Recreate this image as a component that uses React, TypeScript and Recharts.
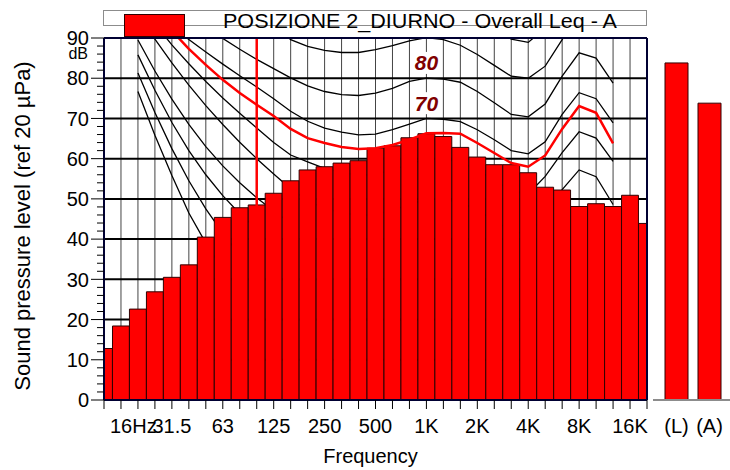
import React from "react";
import {
  ComposedChart,
  BarChart,
  Bar,
  Line,
  XAxis,
  YAxis,
  CartesianGrid,
  ReferenceLine,
  ReferenceDot,
  Label,
} from "recharts";

const FONT = "'Liberation Sans', Arial, sans-serif";

// 1/3 octave bands, 12.5 Hz .. 20 kHz
const bands = [
  "12.5", "16", "20", "25", "31.5", "40", "50", "63", "80", "100", "125",
  "160", "200", "250", "315", "400", "500", "630", "800", "1K", "1.25K",
  "1.6K", "2K", "2.5K", "3.15K", "4K", "5K", "6.3K", "8K", "10K", "12.5K",
  "16K", "20K",
];

// tick labels shown under the axis (same order as bands)
const freqLabels = [
  "", "16Hz", "", "", "31.5", "", "", "63", "", "", "125", "", "", "250", "",
  "", "500", "", "", "1K", "", "", "2K", "", "", "4K", "", "", "8K", "", "",
  "16K", "",
];

// measured Leq per band (dB)
const leq = [
  12.8, 18.4, 22.6, 26.9, 30.5, 33.6, 40.5, 45.4, 47.8, 48.5, 51.4, 54.5,
  57.2, 58.0, 58.9, 59.5, 62.6, 63.2, 65.2, 66.2, 65.5, 62.8, 60.4, 58.5,
  58.5, 56.5, 52.9, 52.2, 48.1, 48.8, 48.1, 50.9, 43.9,
];

// overall values
const overallLabels = ["(L)", "(A)"];
const overallValues = [83.8, 73.8];

// place a run of values starting at a band, nulls elsewhere
const fromBand = (start: number, vals: number[]) =>
  bands.map((_, i) => (i >= start && i - start < vals.length ? vals[i - start] : null));

// equal loudness contours
const c10 = fromBand(2, [76.7, 65.8, 55.8, 46.5, 39.0, 32.5]);
const c20 = fromBand(2, [81.3, 71.5, 62.5, 54.5, 47.5, 41.5, 36.0]);
const c30 = fromBand(2, [85.8, 77.0, 69.0, 62.0, 56.0, 50.8, 46.3, 42.5]);
const c40 = fromBand(2, [89.5, 81.8, 74.8, 68.5, 63.0, 58.2, 54.0, 50.3, 47.0, 44.0]);
const c50 = fromBand(2, [
  96.0, 89.7, 83.8, 78.3, 73.2, 68.5, 64.1, 60.0, 56.2, 52.5, 49.6, 47.6, 46.6,
  45.9, 46.1, 47.2, 48.6, 50.0, 49.8, 49.2, 47.2, 44.7, 42.0, 41.2, 46.0, 52.3,
  57.2, 55.5, 48.6,
]);
const c60 = fromBand(2, [
  99.0, 93.5, 88.3, 83.6, 79.2, 75.1, 71.3, 67.6, 64.0, 60.9, 59.2, 57.6, 56.6,
  55.9, 56.1, 57.2, 58.6, 60.0, 59.8, 59.2, 57.2, 54.7, 52.0, 51.2, 55.6, 61.5,
  66.7, 65.1, 59.3,
]);
const c70 = fromBand(4, [
  93.2, 89.6, 86.5, 83.5, 80.6, 77.8, 74.9, 71.8, 69.3, 67.6, 66.6, 65.9, 66.1,
  67.2, 68.6, 70.0, 69.8, 69.2, 67.2, 64.7, 62.0, 61.2, 64.2, 71.0, 76.4, 74.9,
  68.9,
]);
const c80 = fromBand(6, [
  93.0, 89.9, 87.2, 84.7, 82.4, 80.1, 78.1, 76.7, 75.9, 75.7, 76.3, 77.5, 79.2,
  80.0, 79.8, 79.0, 76.7, 73.9, 71.0, 70.4, 73.6, 80.5, 86.3, 85.0, 78.8,
]);
const c90 = fromBand(10, [
  93.5, 89.6, 87.9, 86.9, 86.4, 86.4, 87.1, 88.1, 89.3, 90.1, 89.6, 88.2, 85.9,
  83.2, 80.5, 80.0, 83.0, 89.6, 96.5, 95.5, 91.0,
]);
const c100 = fromBand(22, [95.5, 92.8, 89.7, 88.9, 92.5, 99.0]);

// red limit curve
const limit = fromBand(3, [
  96.8, 91.8, 87.3, 83.3, 79.6, 76.3, 73.4, 70.6, 67.4, 65.1, 63.9, 62.9, 62.4,
  62.6, 63.4, 64.7, 66.3, 66.4, 66.2, 63.9, 61.4, 58.9, 58.0, 60.8, 67.4, 73.1,
  71.4, 63.8,
]);

// contour tags drawn at 1 kHz
const tagTexts = ["80", "70"];
const tagLevels = [83.8, 73.8];
const tagBand = 19;
const cursorBand = 9; // 100 Hz cursor

const contourKeys = ["c10", "c20", "c30", "c40", "c50", "c60", "c70", "c80", "c90", "c100"];

const rows = bands.map((band, i) => ({
  idx: i,
  band,
  leq: leq[i],
  c10: c10[i],
  c20: c20[i],
  c30: c30[i],
  c40: c40[i],
  c50: c50[i],
  c60: c60[i],
  c70: c70[i],
  c80: c80[i],
  c90: c90[i],
  c100: c100[i],
  limit: limit[i],
}));

const overallRows = overallLabels.map((name, i) => ({ name, value: overallValues[i] }));

const yTicks = Array.from({ length: 46 }, (_, i) => i * 2);
const gridLevels = [10, 20, 30, 40, 50, 60, 70, 80];

const XTick = (props: any) => {
  const { x, y, payload } = props;
  const label = freqLabels[payload.value] || "";
  const hz = label.endsWith("Hz");
  return (
    <g>
      <line x1={x} x2={x} y1={y} y2={y + 9} stroke="#000" strokeWidth={1} />
      {label && (
        <text
          x={hz ? x - 11 : x}
          y={y + 33}
          textAnchor={hz ? "start" : "middle"}
          fontSize={20}
          fontFamily={FONT}
          fill="#000"
        >
          {label}
        </text>
      )}
    </g>
  );
};

const YTick = (props: any) => {
  const { x, y, payload } = props;
  const major = payload.value % 10 === 0;
  return (
    <g>
      <line x1={x - (major ? 13 : 7)} x2={x} y1={y} y2={y} stroke="#000" strokeWidth={1} />
      {major && (
        <text x={x - 15} y={y} dy="0.36em" textAnchor="end" fontSize={20} fontFamily={FONT} fill="#000">
          {payload.value}
        </text>
      )}
    </g>
  );
};

const OverallTick = (props: any) => {
  const { x, y, payload } = props;
  return (
    <text x={x} y={y + 33} textAnchor="middle" fontSize={20} fontFamily={FONT} fill="#000">
      {payload.value}
    </text>
  );
};

const YTitle = (props: any) => {
  const { x, y, height } = props.viewBox;
  return (
    <g>
      <text
        transform={`translate(${x - 22}, ${y + height / 2 + 7}) rotate(-90)`}
        textAnchor="middle"
        dominantBaseline="central"
        fontSize={22}
        fontFamily={FONT}
        fill="#000"
      >
        Sound pressure level (ref 20 µPa)
      </text>
      <text x={x + 44} y={y + 21} textAnchor="end" fontSize={16} fontFamily={FONT} fill="#000">
        dB
      </text>
    </g>
  );
};

const XTitle = (props: any) => {
  const { x, y, width, height } = props.viewBox;
  return (
    <text x={x + width / 2 - 5} y={y + height + 33} textAnchor="middle" fontSize={20} fontFamily={FONT} fill="#000">
      Frequency
    </text>
  );
};

const makeTag = (text: string) => (p: any) => (
  <g>
    <rect x={p.cx - 13} y={p.cy - 11} width={26} height={22} fill="#fff" />
    <text
      x={p.cx}
      y={p.cy}
      dy="0.36em"
      textAnchor="middle"
      fontSize={21}
      fontWeight="bold"
      fontStyle="italic"
      fontFamily={FONT}
      fill="#800000"
    >
      {text}
    </text>
  </g>
);

export default function App() {
  return (
    <div style={{ position: "absolute", left: 0, top: 0, width: 730, height: 470, background: "#fff" }}>
      <div style={{ position: "absolute", left: 0, top: 0 }}>
        <ComposedChart
          width={730}
          height={470}
          data={rows}
          margin={{ top: 38, right: 83, bottom: 40, left: 44 }}
        >
          <CartesianGrid horizontal={false} stroke="#444" strokeWidth={1} />
          <CartesianGrid vertical={false} horizontalValues={gridLevels} stroke="#000" strokeWidth={2} />
          <XAxis
            dataKey="idx"
            type="number"
            domain={[0, bands.length - 1]}
            ticks={bands.map((_, i) => i)}
            interval={0}
            allowDataOverflow
            height={30}
            tickSize={0}
            tickMargin={0}
            tickLine={false}
            tick={<XTick />}
            axisLine={{ stroke: "#000033", strokeWidth: 2 }}
          >
            <Label content={<XTitle />} />
          </XAxis>
          <YAxis
            type="number"
            domain={[0, 90]}
            ticks={yTicks}
            interval={0}
            allowDataOverflow
            width={60}
            tickSize={0}
            tickMargin={0}
            tickLine={false}
            tick={<YTick />}
            axisLine={{ stroke: "#000033", strokeWidth: 2 }}
          >
            <Label content={<YTitle />} />
          </YAxis>
          {contourKeys.map((k) => (
            <Line
              key={k}
              dataKey={k}
              stroke="#000"
              strokeWidth={1.3}
              dot={false}
              activeDot={false}
              isAnimationActive={false}
              zIndex={150}
            />
          ))}
          {tagTexts.map((t, i) => (
            <ReferenceDot key={t} x={tagBand} y={tagLevels[i]} r={0} shape={makeTag(t)} zIndex={160} />
          ))}
          <Bar
            dataKey="leq"
            fill="#ff0000"
            stroke="#300000"
            strokeWidth={1}
            barSize={16.9}
            isAnimationActive={false}
            zIndex={300}
          />
          <Line
            dataKey="limit"
            stroke="#ff0000"
            strokeWidth={2.5}
            dot={false}
            activeDot={false}
            isAnimationActive={false}
            zIndex={400}
          />
          <ReferenceLine x={cursorBand} stroke="#ff0000" strokeWidth={2.5} zIndex={450} />
          <ReferenceLine y={90} stroke="#000033" strokeWidth={2} zIndex={450} />
          <ReferenceLine x={bands.length - 1} stroke="#000033" strokeWidth={2} zIndex={450} />
        </ComposedChart>
      </div>
      <div style={{ position: "absolute", left: 650, top: 0 }}>
        <BarChart
          width={80}
          height={470}
          data={overallRows}
          margin={{ top: 38, right: 0, bottom: 40, left: 3 }}
        >
          <XAxis
            dataKey="name"
            height={30}
            padding={{ left: 7, right: 4 }}
            tickSize={0}
            tickMargin={0}
            tickLine={false}
            tick={<OverallTick />}
            axisLine={{ stroke: "#8c8c8c", strokeWidth: 2 }}
          />
          <YAxis hide domain={[0, 90]} type="number" />
          <Bar
            dataKey="value"
            fill="#ff0000"
            stroke="#300000"
            strokeWidth={1}
            barSize={23}
            isAnimationActive={false}
          />
        </BarChart>
      </div>
      <svg
        width={730}
        height={40}
        style={{ position: "absolute", left: 0, top: 0, pointerEvents: "none" }}
      >
        <rect x={103.5} y={10.5} width={543} height={15} fill="#fff" stroke="#8c8c8c" />
        <rect x={124.5} y={14.5} width={60} height={22} fill="#ff0000" stroke="#300000" />
        <text
          x={420}
          y={28}
          textAnchor="middle"
          fontSize={20}
          fontFamily={FONT}
          fill="#000"
          textLength={394}
          lengthAdjust="spacingAndGlyphs"
        >
          POSIZIONE 2_DIURNO - Overall Leq - A
        </text>
      </svg>
    </div>
  );
}
